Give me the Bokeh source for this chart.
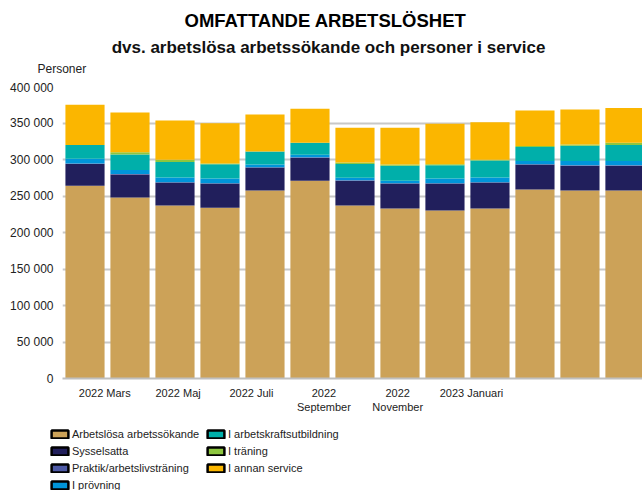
from bokeh.plotting import figure
from bokeh.models import (ColumnDataSource, Range1d, FixedTicker, Legend, LegendItem, Label, Title)
from bokeh.layouts import column
from bokeh.embed import file_html
from bokeh.resources import INLINE

# ---- data ----
months = ["2022 Februari", "2022 Mars", "2022 April", "2022 Maj", "2022 Juni", "2022 Juli",
          "2022 Augusti", "2022 September", "2022 Oktober", "2022 November", "2022 December",
          "2023 Januari", "2023 Februari"]
arbetslosa = [264000, 248000, 237000, 234000, 257500, 271000, 237000, 233000, 230000, 233000, 259000, 257500, 257500]
sysselsatta = [30000, 31500, 31500, 33000, 31500, 31500, 34000, 34000, 37000, 35500, 34000, 34000, 34000]
praktik = [500, 500, 500, 500, 500, 500, 500, 500, 500, 500, 500, 500, 500]
provning = [6500, 5500, 6500, 6500, 3500, 3500, 3500, 3500, 6500, 6500, 4500, 6000, 6000]
aub = [19000, 21500, 21000, 19500, 18000, 16500, 19000, 20500, 18000, 23000, 19000, 21000, 22000]
traning = [0, 3000, 3000, 1000, 0, 0, 2000, 1500, 1500, 1000, 1500, 1500, 3000]
service = [55000, 54500, 54000, 55000, 50500, 46500, 47500, 50500, 55500, 51500, 48500, 48000, 47500]

series_names = ["Arbetslösa arbetssökande", "Sysselsatta", "Praktik/arbetslivsträning",
                "I prövning", "I arbetskraftsutbildning", "I träning", "I annan service"]
colors = ["#CCA258", "#211F5C", "#4E5AA6", "#0095DA", "#00AFAA", "#8DC63F", "#FBB600"]

y_ticks = [0, 50000, 100000, 150000, 200000, 250000, 300000, 350000, 400000]
y_tick_labels = ["0", "50 000", "100 000", "150 000", "200 000", "250 000", "300 000", "350 000", "400 000"]
x_tick_pos = [0.44, 2.07, 3.70, 5.31, 6.95, 8.59]
x_tick_labels = ["2022 Mars", "2022 Maj", "2022 Juli", "2022\nSeptember", "2022\nNovember", "2023 Januari"]

title_text = "OMFATTANDE ARBETSLÖSHET"
subtitle_text = "dvs. arbetslösa arbetssökande och personer i service"
y_unit = "Personer"

FONT = "Liberation Sans"
W = 642

# ---- header (titles) ----
head = figure(width=W, height=80, output_backend="svg", toolbar_location=None,
              x_range=Range1d(62, 642), y_range=Range1d(0, 56),
              x_axis_type=None, y_axis_type=None, min_border=0)
head.outline_line_color = None
head.add_layout(Label(x=325, y=36, text=title_text, text_align="center", text_baseline="middle",
                      text_font=FONT, text_font_style="bold", text_font_size="18.5px", text_color="black"))
head.add_layout(Label(x=328, y=9, text=subtitle_text, text_align="center", text_baseline="middle",
                      text_font=FONT, text_font_style="bold", text_font_size="17px", text_color="#111111"))
head.add_layout(Title(text=y_unit, align="left", offset=-25, vertical_align="middle", standoff=8,
                      text_font=FONT, text_font_size="12px", text_font_style="normal",
                      text_color="#222222"), "below")

# ---- main chart ----
keys = ["a", "s", "p", "pr", "aub", "t", "se"]
src = ColumnDataSource(dict(x=list(range(len(months))), a=arbetslosa, s=sysselsatta, p=praktik,
                            pr=provning, aub=aub, t=traning, se=service))

p = figure(width=W, height=340, output_backend="svg", toolbar_location=None,
           x_range=Range1d(-0.5, 12.39), y_range=Range1d(0, 400000),
           min_border_left=62, min_border_right=0, min_border_top=6, min_border_bottom=42)
p.outline_line_color = None

p.vbar_stack(keys, x="x", width=0.87, color=colors, line_color=None, source=src)

p.yaxis.ticker = FixedTicker(ticks=y_ticks)
p.yaxis.major_label_overrides = {t: l for t, l in zip(y_ticks, y_tick_labels)}
p.yaxis.axis_line_color = None
p.yaxis.major_tick_line_color = None
p.yaxis.minor_tick_line_color = None
p.yaxis.major_tick_out = 0
p.yaxis.major_tick_in = 0
p.yaxis.major_label_standoff = 9
p.yaxis.major_label_text_font = FONT
p.yaxis.major_label_text_font_size = "12px"
p.yaxis.major_label_text_color = "#222222"

p.xaxis.ticker = FixedTicker(ticks=x_tick_pos)
p.xaxis.major_label_overrides = {t: l for t, l in zip(x_tick_pos, x_tick_labels)}
p.xaxis.axis_line_color = "#bfbfbf"
p.xaxis.axis_line_width = 2
p.xaxis.major_tick_line_color = None
p.xaxis.minor_tick_line_color = None
p.xaxis.major_tick_out = 0
p.xaxis.major_tick_in = 0
p.xaxis.major_label_standoff = 8
p.xaxis.major_label_text_font = FONT
p.xaxis.major_label_text_font_size = "11px"
p.xaxis.major_label_text_color = "#222222"

p.xgrid.grid_line_color = None
p.ygrid.ticker = FixedTicker(ticks=y_ticks)
p.ygrid.grid_line_color = "#c8c8c8"
p.ygrid.grid_line_width = 2

# ---- legend figure ----
leg = figure(width=W, height=70, output_backend="svg", toolbar_location=None,
             x_range=Range1d(0, 1), y_range=Range1d(0, 1),
             x_axis_type=None, y_axis_type=None, min_border=0)
leg.outline_line_color = None
legend_x = 0
if "frame_align" in leg.properties():
    leg.frame_align = False
    legend_x = 49
items = []
for name, c in zip(series_names, colors):
    r = leg.vbar(x=[0.5], top=[1], width=0.1, fill_color=c, line_color="black", line_width=2.5, visible=False)
    items.append(LegendItem(label=name, renderers=[r]))
legend = Legend(items=items, orientation="vertical", nrows=4, location=(legend_x, -2),
                glyph_width=21, glyph_height=10, label_height=14, label_width=130,
                spacing=3, padding=0, margin=0, label_standoff=2,
                label_text_font=FONT, label_text_font_size="11px", label_text_color="#222222",
                border_line_color=None, background_fill_alpha=0)
leg.add_layout(legend, "center")

layout = column(head, p, leg, spacing=0)
open("out.html", "w").write(file_html(layout, INLINE))
